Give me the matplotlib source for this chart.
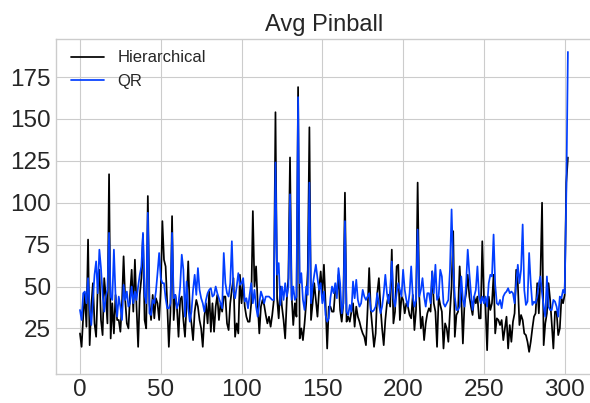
import matplotlib
matplotlib.use("Agg")
import matplotlib.pyplot as plt

# Avg pinball loss per series
hierarchical = [
    22, 14, 32, 46, 26, 78, 15, 38, 52, 28,
    20, 50, 60, 30, 21, 55, 44, 28, 117, 19,
    40, 22, 45, 30, 30, 23, 40, 68, 42, 28,
    25, 45, 60, 35, 66, 38, 14, 45, 55, 81,
    30, 25, 104, 40, 30, 45, 31, 43, 40, 30,
    48, 89, 66, 62, 40, 14, 35, 92, 30, 45,
    38, 20, 42, 44, 30, 20, 40, 65, 35, 28,
    18, 35, 42, 38, 30, 25, 14, 32, 40, 28,
    47, 23, 40, 23, 38, 45, 30, 40, 35, 44,
    44, 28, 24, 40, 48, 55, 20, 28, 22, 57,
    40, 52, 38, 32, 29, 29, 40, 95, 50, 62,
    40, 22, 38, 42, 39, 33, 28, 32, 26, 33,
    42, 154, 43, 31, 50, 38, 30, 19, 42, 55,
    127, 45, 27, 40, 32, 169, 19, 25, 18, 28,
    40, 60, 145, 30, 40, 52, 42, 32, 48, 59,
    45, 63, 40, 13, 38, 38, 35, 35, 48, 46,
    57, 36, 29, 40, 106, 29, 32, 29, 35, 40,
    26, 38, 32, 29, 25, 22, 20, 15, 36, 61,
    36, 25, 14, 22, 46, 55, 38, 25, 15, 30,
    40, 45, 38, 72, 28, 35, 62, 63, 30, 44,
    42, 34, 40, 38, 33, 31, 45, 24, 36, 112,
    44, 25, 32, 18, 28, 34, 37, 35, 59, 40,
    35, 14, 44, 39, 35, 13, 28, 25, 17, 35,
    50, 83, 20, 33, 35, 62, 44, 16, 40, 46,
    57, 44, 38, 33, 44, 40, 44, 31, 31, 77,
    44, 38, 12, 44, 36, 40, 57, 22, 31, 30,
    27, 30, 18, 25, 32, 13, 27, 17, 29, 34,
    60, 52, 27, 33, 30, 22, 21, 17, 11, 17,
    25, 32, 34, 52, 34, 56, 100, 15, 28, 34,
    52, 42, 28, 13, 35, 35, 21, 25, 43, 40,
    45, 112, 127,
]

qr = [
    36, 30, 46, 47, 40, 55, 37, 27, 42, 57,
    65, 46, 72, 61, 45, 35, 44, 48, 82, 44,
    42, 72, 45, 32, 44, 38, 30, 51, 42, 47,
    38, 40, 50, 40, 47, 42, 50, 57, 62, 82,
    45, 40, 94, 34, 33, 42, 40, 47, 58, 70,
    55, 52, 52, 43, 37, 37, 40, 82, 43, 45,
    37, 40, 50, 69, 60, 32, 53, 37, 29, 35,
    48, 57, 45, 61, 48, 43, 40, 35, 42, 46,
    48, 49, 44, 45, 50, 46, 43, 40, 37, 70,
    52, 46, 44, 52, 77, 47, 43, 50, 58, 51,
    52, 55, 41, 43, 37, 45, 52, 40, 48, 38,
    32, 40, 47, 44, 40, 44, 44, 44, 43, 42,
    42, 124, 57, 64, 39, 50, 42, 52, 44, 50,
    105, 42, 50, 42, 44, 163, 52, 58, 42, 36,
    50, 45, 112, 40, 50, 57, 63, 55, 48, 52,
    40, 47, 33, 29, 31, 43, 50, 46, 52, 43,
    61, 52, 34, 40, 89, 35, 33, 39, 35, 53,
    43, 54, 42, 38, 40, 48, 44, 42, 44, 46,
    36, 35, 36, 38, 46, 40, 34, 38, 46, 57,
    46, 40, 48, 65, 43, 38, 46, 52, 48, 44,
    60, 48, 42, 38, 46, 62, 44, 38, 42, 84,
    44, 48, 55, 44, 38, 46, 46, 40, 59, 46,
    63, 42, 44, 60, 56, 40, 38, 40, 42, 60,
    96, 62, 44, 36, 36, 38, 56, 42, 38, 52,
    72, 58, 46, 36, 44, 48, 62, 44, 40, 44,
    40, 44, 38, 52, 57, 56, 81, 51, 40, 39,
    42, 37, 44, 46, 47, 49, 46, 47, 46, 40,
    52, 63, 52, 60, 87, 48, 39, 41, 70, 52,
    39, 41, 40, 44, 52, 56, 46, 38, 32, 56,
    38, 36, 36, 42, 41, 38, 32, 44, 43, 48,
    46, 105, 190,
]

x = list(range(len(hierarchical)))

plt.style.use("seaborn-v0_8-whitegrid")
plt.rcParams["font.family"] = ["Liberation Sans", "DejaVu Sans"]

fig = plt.figure(figsize=(5.9, 4.03), dpi=100)
ax = fig.add_axes([0.0942, 0.072, 0.9097, 0.830])

ax.plot(x, hierarchical, color="black", linewidth=1.25, label="Hierarchical")
ax.plot(x, qr, color="#023eff", linewidth=1.25, label="QR")

ax.set_title("Avg Pinball", fontsize=17, color=".15")
ax.set_xlim(-15.1, 317.1)
ax.set_ylim(-2.2, 197.4)
ax.set_xticks([0, 50, 100, 150, 200, 250, 300])
ax.set_yticks([25, 50, 75, 100, 125, 150, 175])
ax.tick_params(labelsize=17.5, colors=".15")
ax.legend(loc="upper left", fontsize=12, frameon=False,
          bbox_to_anchor=(0.0, 1.012))

fig.savefig("out.png", dpi=100)
